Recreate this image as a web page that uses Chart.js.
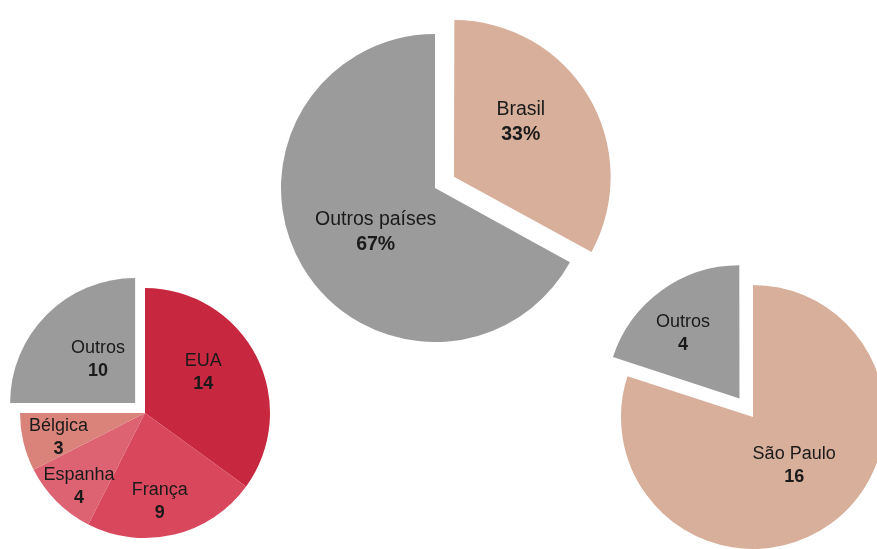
<!DOCTYPE html>
<html>
<head>
<meta charset="utf-8">
<script src="https://cdn.jsdelivr.net/npm/chart.js@4"></script>
<style>
  html, body { margin: 0; padding: 0; background: #fff; overflow: hidden; }
  body { width: 877px; height: 549px; position: relative; }
  .pie { position: absolute; }
</style>
</head>
<body>
<div class="pie" style="left:5px; top:273px; width:280px; height:280px;"><canvas id="paisesChart"></canvas></div>
<div class="pie" style="left:255px; top:8px; width:360px; height:360px;"><canvas id="brasilChart"></canvas></div>
<div class="pie" style="left:593px; top:257px; width:320px; height:320px;"><canvas id="estadosChart"></canvas></div>
<script>
// origem por país (fora do Brasil)
const paisesLabels = ['EUA', 'França', 'Espanha', 'Bélgica', 'Outros'];
const paisesValores = [14, 9, 4, 3, 10];

// participação do Brasil
const brasilLabels = ['Brasil', 'Outros países'];
const brasilValores = [33, 67];

// distribuição por estado
const estadosLabels = ['São Paulo', 'Outros'];
const estadosValores = [16, 4];

// o Chart.js v4 desloca a fatia em offset/4 px
const DESLOC = 4;

// escreve nome + valor dentro de cada fatia
// dist = fração do raio, giro = ajuste do ângulo em graus
const rotulosPlugin = {
    id: 'rotulos',
    afterDatasetsDraw(chart, args, opts) {
        const ctx = chart.ctx;
        const meta = chart.getDatasetMeta(0);
        const ds = chart.data.datasets[0];
        ctx.save();
        ctx.textAlign = 'center';
        ctx.textBaseline = 'middle';
        ctx.fillStyle = '#1a1a1a';
        meta.data.forEach((arc, i) => {
            const a = (arc.startAngle + arc.endAngle) / 2 + (opts.giro[i] || 0) * Math.PI / 180;
            const off = (Array.isArray(ds.offset) ? ds.offset[i] : (ds.offset || 0)) / DESLOC;
            const d = arc.outerRadius * opts.dist[i] + off;
            const x = arc.x + Math.cos(a) * d;
            const y = arc.y + Math.sin(a) * d;
            const valor = ds.data[i] + (opts.sufixo || '');
            ctx.font = opts.size + 'px "Liberation Sans", Arial, sans-serif';
            ctx.fillText(chart.data.labels[i], x, y - opts.gap / 2);
            ctx.font = 'bold ' + opts.size + 'px "Liberation Sans", Arial, sans-serif';
            ctx.fillText(valor, x, y + opts.gap / 2);
        });
        ctx.restore();
    }
};

function pizza(id, labels, valores, cores, offsets, raio, rot) {
    return new Chart(document.getElementById(id).getContext('2d'), {
        type: 'pie',
        data: {
            labels: labels,
            datasets: [{
                data: valores,
                backgroundColor: cores,
                borderWidth: 0,
                offset: offsets.map(o => o * DESLOC),
                hoverOffset: 0
            }]
        },
        options: {
            responsive: true,
            maintainAspectRatio: false,
            animation: false,
            radius: raio,
            layout: { padding: 0 },
            events: [],
            plugins: {
                legend: { display: false },
                tooltip: { enabled: false },
                rotulos: rot
            }
        },
        plugins: [rotulosPlugin]
    });
}

pizza('paisesChart', paisesLabels, paisesValores,
    ['#c8283f', '#d9475d', '#dd6372', '#d9837a', '#9b9b9b'],
    [0, 0, 0, 0, 14], 125,
    { dist: [0.57, 0.72, 0.79, 0.72, 0.46], giro: [-8, 4, -3, -2.5, 4], size: 18, gap: 23 });

pizza('brasilChart', brasilLabels, brasilValores,
    ['#d7af9b', '#9b9b9b'],
    [22, 0], 154,
    { dist: [0.56, 0.48], giro: [-7, -6], size: 19.5, gap: 25, sufixo: '%' });

pizza('estadosChart', estadosLabels, estadosValores,
    ['#d7af9b', '#9b9b9b'],
    [0, 23], 132,
    { dist: [0.48, 0.65], giro: [-4.5, -4], size: 18, gap: 23 });
</script>
</body>
</html>
